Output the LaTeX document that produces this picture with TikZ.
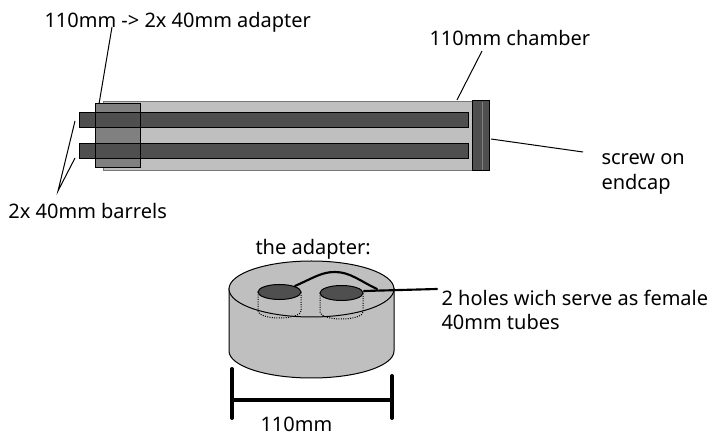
\documentclass[tikz,border=0pt]{standalone}
\usepackage{fontspec}
\setmainfont{Noto Sans}
\definecolor{chamberfill}{rgb}{0.75,0.75,0.75}
\definecolor{barrelfill}{rgb}{0.31,0.31,0.31}
\definecolor{adapterfill}{rgb}{0.5,0.5,0.5}
\tikzset{every picture/.style={line width=0.75pt}}
\tikzset{lbl/.style={anchor=base west,inner sep=0.75pt,font=\fontsize{15pt}{18pt}\selectfont}}
\tikzset{leader/.style={line width=0.75pt}}
\tikzset{thickleader/.style={line width=1.6pt,line cap=round}}

\begin{document}
\begin{tikzpicture}[x=0.75pt,y=0.75pt,yscale=-1,xscale=1]
\useasboundingbox (0,0) rectangle (725,441);

%Shape: Chamber
\draw [color={rgb,255:red,120;green,120;blue,120},fill=chamberfill] (103,102) -- (472,102) -- (472,171) -- (103,171) -- cycle ;
%Shape: Adapter on the chamber
\draw [fill=adapterfill] (95,104) -- (140,104) -- (140,168) -- (95,168) -- cycle ;
%Shape: Barrels
\draw [fill=barrelfill] (79,113) -- (468,113) -- (468,128) -- (79,128) -- cycle ;
\draw [fill=barrelfill] (79,144) -- (468,144) -- (468,159) -- (79,159) -- cycle ;
\draw (95,113) -- (95,128) (140,113) -- (140,128) (95,144) -- (95,159) (140,144) -- (140,159) ;
%Shape: Endcap
\draw [fill=barrelfill] (472,101) -- (489,101) -- (489,171) -- (472,171) -- cycle ;
\draw [color=adapterfill] (482,102) -- (482,170) ;

%Shape: Cylinder
\draw [fill=chamberfill] (229,288) -- (229,351) arc [start angle=180,end angle=0,x radius=82.5,y radius=27] -- (394,288) ;
\draw [fill=chamberfill] (311.5,289) ellipse [x radius=82.5,y radius=28] ;
%Shape: Holes
\draw [densely dotted] (258,292) -- (258,311) arc [start angle=180,end angle=0,x radius=21.5,y radius=7] -- (301,292) ;
\draw [densely dotted] (320,293) -- (320,312) arc [start angle=180,end angle=0,x radius=21.5,y radius=7] -- (363,293) ;
\draw [fill=barrelfill] (279.5,292) ellipse [x radius=21.5,y radius=7.5] ;
\draw [fill=barrelfill] (341.5,293) ellipse [x radius=21.5,y radius=7.5] ;

% Text Node
\node (lblAdapter) [lbl] at (43,28) {110mm -> 2x 40mm adapter};
% Text Node
\node (lblChamber) [lbl] at (428,46) {110mm chamber};
% Text Node
\node (lblScrew) [lbl] at (600,165) {screw on};
% Text Node
\node (lblEndcap) [lbl] at (600,190) {endcap};
% Text Node
\node (lblBarrels) [lbl] at (7,219) {2x 40mm barrels};
% Text Node
\node (lblTitle) [lbl] at (254,255) {the adapter:};
% Text Node
\node (lblHoles) [lbl] at (440,306) {2 holes wich serve as female};
% Text Node
\node (lblTubes) [lbl] at (440,330) {40mm tubes};
% Text Node
\node (lblWidth) [lbl] at (259,432) {110mm};

%Straight Lines
\coordinate (adapterFrom) at (112,27);
\coordinate (adapterTo) at (99,104);
\draw [leader] (adapterFrom) -- (adapterTo) ;
\coordinate (barrelFork) at (58,191);
\coordinate (barrelTop) at (75,121);
\coordinate (barrelBottom) at (75,158);
\draw [leader] (barrelTop) -- (barrelFork) -- (barrelBottom) ;
\coordinate (chamberFrom) at (482,51);
\coordinate (chamberTo) at (457,100);
\draw [leader] (chamberFrom) -- (chamberTo) ;
\coordinate (screwFrom) at (583,152);
\coordinate (screwTo) at (491,139);
\draw [leader] (screwFrom) -- (screwTo) ;

%Curve: hole leader
\coordinate (holeLeft) at (295,286);
\coordinate (holeTop) at (335,272);
\coordinate (holeJoin) at (377,289);
\coordinate (holeRight) at (364,291);
\coordinate (holeEnd) at (437,289);
\draw [thickleader] (holeLeft) .. controls (315,277) and (322,272) .. (holeTop) .. controls (350,272) and (360,281) .. (holeJoin) ;
\draw [thickleader] (holeRight) -- (holeEnd) ;

%Dimension bar
\coordinate (dimLeftTop) at (232,369);
\coordinate (dimLeftBot) at (232,418);
\coordinate (dimRightTop) at (392,376);
\coordinate (dimRightBot) at (392,418);
\coordinate (dimLeft) at (232,400);
\coordinate (dimRight) at (392,400);
\draw [line width=3pt,line cap=round] (dimLeftTop) -- (dimLeftBot) ;
\draw [line width=3pt,line cap=round] (dimRightTop) -- (dimRightBot) ;
\draw [line width=3pt] (dimLeft) -- (dimRight) ;
\end{tikzpicture}
\end{document}
